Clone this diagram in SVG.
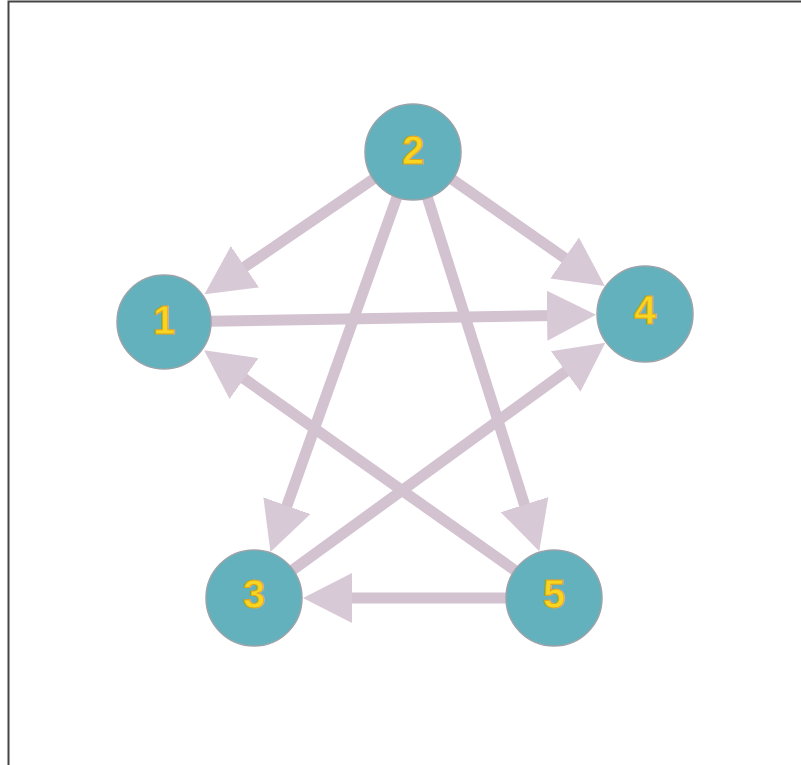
<svg xmlns="http://www.w3.org/2000/svg" width="801" height="765" viewBox="0 0 801 765">
  <style>
    .frame { stroke: #444; stroke-width: 2; fill: none; }
    .edge { stroke: #d3c3d1; stroke-width: 11; stroke-linecap: butt; fill: none; marker-end: url(#head); }
    .node circle { fill: #63b1bc; stroke: #9aa3aa; stroke-width: 1.5; }
    .node text { font-family: "Liberation Sans", Arial, sans-serif; font-weight: bold; font-size: 40px; fill: #f8d520; stroke: #e0a51a; stroke-width: 1; text-anchor: middle; dominant-baseline: central; }
  </style>
  <defs>
    <!-- shared arrowhead for every connector -->
    <marker id="head" markerUnits="userSpaceOnUse" markerWidth="50" markerHeight="52" viewBox="0 0 50 52" refX="9" refY="26" orient="auto">
      <path d="M0,1 L49,26 L0,51 Z" fill="#d8c9d7"/>
    </marker>
  </defs>
  <rect x="0" y="0" width="801" height="765" fill="#ffffff"/>
  <path class="frame" d="M8.5,765 V1.5 H801"/>

  <g id="connectors">
    <line class="edge" x1="413" y1="152" x2="237.5" y2="271.8"/>
    <line class="edge" x1="413" y1="152" x2="572.0" y2="263.1"/>
    <line class="edge" x1="413" y1="152" x2="283.9" y2="514.2"/>
    <line class="edge" x1="413" y1="152" x2="527.2" y2="513.2"/>
    <line class="edge" x1="164" y1="322" x2="556.0" y2="315.5"/>
    <line class="edge" x1="254" y1="598" x2="573.0" y2="366.3"/>
    <line class="edge" x1="554" y1="598" x2="236.7" y2="373.4"/>
    <line class="edge" x1="554" y1="598" x2="343" y2="598"/>
  </g>

  <g id="node-2" class="node"><circle cx="413" cy="152" r="48"/><text x="413" y="150">2</text></g>
  <g id="node-1" class="node"><circle cx="164" cy="322" r="47"/><text x="164" y="320">1</text></g>
  <g id="node-4" class="node"><circle cx="645" cy="314" r="48"/><text x="645" y="310">4</text></g>
  <g id="node-3" class="node"><circle cx="254" cy="598" r="48"/><text x="254" y="594">3</text></g>
  <g id="node-5" class="node"><circle cx="554" cy="598" r="48"/><text x="554" y="594">5</text></g>
</svg>
